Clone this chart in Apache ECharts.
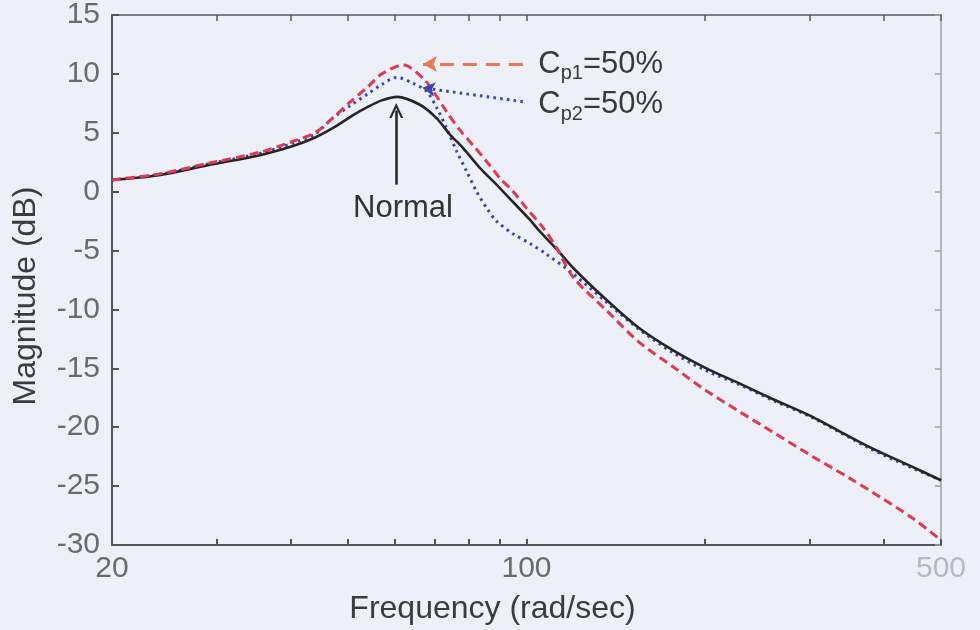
<!DOCTYPE html>
<html>
<head>
<meta charset="utf-8">
<script src="https://cdn.jsdelivr.net/npm/echarts@6/dist/echarts.min.js"></script>
<style>
html,body{margin:0;padding:0;background:#eef0f9;}
#chart{width:980px;height:630px;}
</style>
</head>
<body>
<div id="chart"></div>
<script>
// ---- Data ----
const normalFreq = [20, 24, 29, 35.5, 40.5, 44, 47.5, 51, 54, 57, 60.5, 66, 70.5, 74.3, 78.2, 83.5, 89, 95, 101.4, 105.4, 112.5, 120, 136.5, 155, 177, 201, 229, 260, 300, 376, 440, 500];
const normalMag  = [1.0, 1.4, 2.25, 3.1, 3.9, 4.6, 5.5, 6.5, 7.2, 7.75, 8.05, 7.4, 6.25, 4.85, 3.7, 2.0, 0.6, -0.9, -2.4, -3.4, -4.9, -6.5, -9.2, -11.6, -13.5, -15.0, -16.3, -17.6, -19.0, -21.6, -23.2, -24.5];

const cp1Freq = [20, 24, 29, 35.5, 40.5, 44, 47, 50.4, 54, 57, 62, 67, 69.7, 73.3, 77.3, 81.4, 85.7, 90.2, 95, 100, 106.8, 112.5, 120, 136.5, 155, 177, 201, 229, 260, 304, 350, 394, 450, 500];
const cp1Mag  = [1.0, 1.5, 2.4, 3.35, 4.3, 5.0, 6.2, 7.6, 8.9, 10.0, 10.75, 9.6, 8.5, 6.8, 5.2, 3.9, 2.55, 1.15, 0.0, -1.4, -3.1, -4.8, -7.3, -10.1, -12.8, -14.9, -16.9, -18.7, -20.4, -22.5, -24.3, -25.9, -27.8, -29.6];

const cp2Freq = [20, 24, 29, 35.5, 40.5, 44, 47, 50.4, 54, 57, 60.4, 64.4, 67.9, 70.6, 73.3, 76.3, 79.3, 82.4, 85.7, 89, 95, 101.4, 108, 120, 136.5, 155, 177, 201, 229, 260, 304, 376, 440, 500];
const cp2Mag  = [1.0, 1.45, 2.35, 3.25, 4.15, 4.9, 6.2, 7.3, 8.3, 9.1, 9.7, 9.2, 8.5, 7.1, 5.4, 3.4, 1.7, 0.0, -1.4, -2.5, -3.6, -4.4, -5.3, -7.0, -9.4, -11.7, -13.7, -15.2, -16.4, -17.7, -19.2, -21.7, -23.3, -24.5];

const xTickValues  = [20, 30, 40, 50, 60, 70, 80, 90, 100, 200, 300, 400, 500];
const xLabelValues = [20, 100, 500];
const yMin = -30, yMax = 15, yStep = 5;

// annotation anchors (data space)
const normalArrow = [[60.3, 0.6], [60.3, 6.9]];
const normalText  = [61.9, -1.45];
const cp1Arrow    = [[98.6, 10.85], [66.9, 10.85]];
const cp2Arrow    = [[98.6, 7.64], [66.7, 8.82]];
const cp1Text     = [104.7, 10.8];
const cp2Text     = [104.7, 7.4];

const FONT = '"Liberation Sans", Arial, Helvetica, sans-serif';

function pairs(xs, ys){ return xs.map((x,i)=>[x, ys[i]]); }

const chart = echarts.init(document.getElementById('chart'), null, {renderer:'canvas'});
const subRich = {
  m: {fontSize: 31, color: '#3a3a3a', fontFamily: FONT},
  s: {fontSize: 20, color: '#3a3a3a', fontFamily: FONT, verticalAlign: 'bottom', padding: [0,0,-4,0]}
};

chart.setOption({
  animation: false,
  backgroundColor: '#eef0f9',
  grid: {left: 112, right: 39, top: 13, bottom: 85, containLabel: false},
  xAxis: [{
    type: 'log', logBase: 10, min: 20, max: 500, position: 'bottom',
    name: 'Frequency (rad/sec)', nameLocation: 'middle', nameGap: 48,
    nameTextStyle: {fontSize: 32, color: '#3c3c3c', fontFamily: FONT, padding: [0, 68, 0, 0]},
    axisLine: {show: true, onZero: false, lineStyle: {color: '#555', width: 2}},
    axisTick: {show: true, inside: true, length: 6, customValues: xTickValues, lineStyle: {color: '#555', width: 2}},
    minorTick: {show: false},
    axisLabel: {show: true, customValues: xLabelValues, margin: 9, fontSize: 30, fontFamily: FONT,
      color: function(v){ return v >= 499 ? '#b8b8c0' : '#6b6b6b'; },
      formatter: function(v){ return String(Math.round(v)); }},
    splitLine: {show: false}
  }, {
    type: 'log', logBase: 10, min: 20, max: 500, position: 'top',
    axisLine: {show: true, onZero: false, lineStyle: {color: '#5a5a5a', width: 1.5}},
    axisTick: {show: true, inside: true, length: 6, customValues: xTickValues, lineStyle: {color: '#5a5a5a', width: 1.5}},
    axisLabel: {show: false}, splitLine: {show: false}
  }],
  yAxis: [{
    type: 'value', min: yMin, max: yMax, interval: yStep, position: 'left',
    name: 'Magnitude (dB)', nameLocation: 'middle', nameGap: 70,
    nameTextStyle: {fontSize: 32, color: '#3c3c3c', fontFamily: FONT, padding: [0, 32, 0, 0]},
    axisLine: {show: true, onZero: false, lineStyle: {color: '#555', width: 2}},
    axisTick: {show: true, inside: true, length: 7, lineStyle: {color: '#555', width: 2}},
    axisLabel: {fontSize: 30, color: '#6b6b6b', fontFamily: FONT, margin: 12},
    splitLine: {show: false}
  }, {
    type: 'value', min: yMin, max: yMax, interval: yStep, position: 'right',
    axisLine: {show: true, onZero: false, lineStyle: {color: '#a0a0a8', width: 1.5}},
    axisTick: {show: true, inside: true, length: 6, lineStyle: {color: '#a0a0a8', width: 1.5}},
    axisLabel: {show: false}, splitLine: {show: false}
  }],
  series: [{
    name: 'Cp2=50%', type: 'line', xAxisIndex: 0, yAxisIndex: 0,
    data: pairs(cp2Freq, cp2Mag), showSymbol: false, smooth: 0.3, silent: true,
    lineStyle: {color: '#3a46b8', width: 3, type: [2.6, 4.2], cap: 'butt'},
    markLine: {
      silent: true, symbol: ['none', 'arrow'], symbolSize: [11, 13], label: {show: false},
      lineStyle: {color: '#3a46b8', width: 3, type: [2.6, 4.2]},
      data: [[{coord: cp2Arrow[0]}, {coord: cp2Arrow[1]}]]
    },
    markPoint: {
      silent: true, symbol: 'circle', symbolSize: 0,
      data: [{coord: cp2Text, label: {show: true, position: 'right', distance: 0,
        formatter: '{m|C}{s|p2}{m|=50%}', rich: subRich}}]
    }
  }, {
    name: 'Normal', type: 'line', xAxisIndex: 0, yAxisIndex: 0,
    data: pairs(normalFreq, normalMag), showSymbol: false, smooth: 0.3, silent: true,
    lineStyle: {color: '#262626', width: 2.6},
    markLine: {
      silent: true,
      symbol: ['none', 'path://M0,12 L6,0 L12,12 L10,12 L6,4 L2,12 Z'],
      symbolSize: [14, 15], label: {show: false},
      lineStyle: {color: '#2a2a2a', width: 2.6, type: 'solid'},
      itemStyle: {color: '#2a2a2a'},
      data: [[{coord: normalArrow[0]}, {coord: normalArrow[1]}]]
    },
    markPoint: {
      silent: true, symbol: 'circle', symbolSize: 0,
      data: [{coord: normalText, label: {show: true, position: 'inside', formatter: 'Normal',
        fontSize: 31, color: '#333', fontFamily: FONT}}]
    }
  }, {
    name: 'Cp1=50%', type: 'line', xAxisIndex: 0, yAxisIndex: 0,
    data: pairs(cp1Freq, cp1Mag), showSymbol: false, smooth: 0.3, silent: true,
    lineStyle: {color: '#e23a4c', width: 3, type: [9, 5]},
    markLine: {
      silent: true, symbol: ['none', 'arrow'], symbolSize: [12, 14], label: {show: false},
      lineStyle: {color: '#ec7752', width: 3, type: [14, 9]},
      data: [[{coord: cp1Arrow[0]}, {coord: cp1Arrow[1]}]]
    },
    markPoint: {
      silent: true, symbol: 'circle', symbolSize: 0,
      data: [{coord: cp1Text, label: {show: true, position: 'right', distance: 0,
        formatter: '{m|C}{s|p1}{m|=50%}', rich: subRich}}]
    }
  }]
});
</script>
</body>
</html>
